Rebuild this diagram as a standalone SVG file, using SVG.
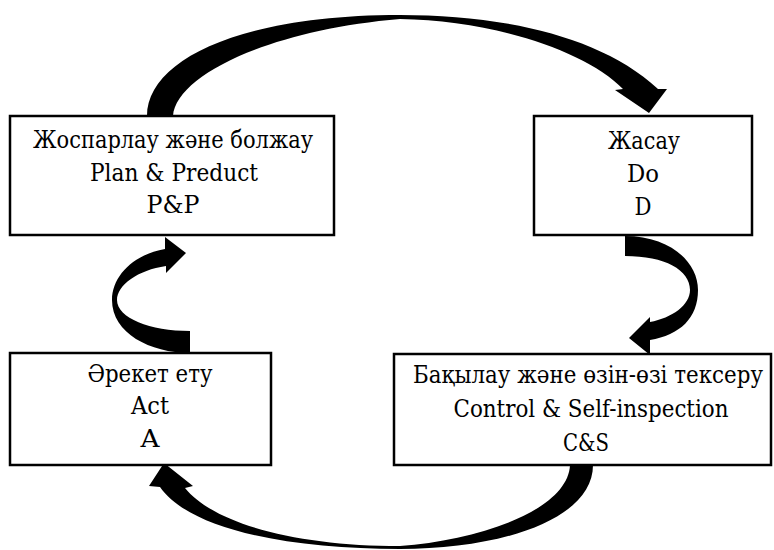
<svg xmlns="http://www.w3.org/2000/svg" width="774" height="550" viewBox="0 0 774 550">
<style>
.box{fill:#fff;stroke:#000;stroke-width:2.5}
.arr{fill:#000;stroke:none}
.t{font-family:'DejaVu Serif',serif;font-size:25px;fill:#000;text-anchor:middle}
</style>
<rect width="774" height="550" fill="#fff"/>
<g id="connectors">
<path class="arr" d="M147,116 C147,60 240,15 400,15 C500,15 600,35 658,89 L667,89 L649,113 L615,90 L623,89 C585,50 490,20 400,19 C270,30 176,75 173,116 Z"/>
<path class="arr" d="M625,236 C670,236 698,262 698,290 C698,318 680,335 650,340 L650,355 L629,338 L650,317 L650,322 C672,318 690,305 690,290 C690,270 665,256 625,256 Z"/>
<path class="arr" d="M593,465 C593,520 500,549 400,549 C290,549 190,530 160,487 L149,486 L164,463 L193,486 L185,488 C215,525 300,546 400,546 C480,540 568,510 570,465 Z"/>
<path class="arr" d="M190,353 C150,353 112,333 112,300 C112,275 135,254 165,249 L165,237 L186,253 L166,273 L166,266 C138,270 117,285 117,300 C117,318 150,331 190,331 Z"/>
</g>
<g id="node-pp">
<rect class="box" x="10" y="116" width="324" height="119"/>
<text class="t" x="173" y="148" textLength="280" lengthAdjust="spacingAndGlyphs">Жоспарлау және болжау</text>
<text class="t" x="174" y="181" textLength="168" lengthAdjust="spacingAndGlyphs">Plan &amp; Preduct</text>
<text class="t" x="173" y="213" textLength="53" lengthAdjust="spacingAndGlyphs">P&amp;P</text>
</g>
<g id="node-do">
<rect class="box" x="534" y="116" width="218" height="119"/>
<text class="t" x="644" y="149" textLength="72" lengthAdjust="spacingAndGlyphs">Жасау</text>
<text class="t" x="643" y="182" textLength="32" lengthAdjust="spacingAndGlyphs">Do</text>
<text class="t" x="643" y="215" textLength="17" lengthAdjust="spacingAndGlyphs">D</text>
</g>
<g id="node-act">
<rect class="box" x="10" y="353" width="261" height="112"/>
<text class="t" x="150" y="382" textLength="125" lengthAdjust="spacingAndGlyphs">Әрекет ету</text>
<text class="t" x="150" y="414" textLength="38" lengthAdjust="spacingAndGlyphs">Act</text>
<text class="t" x="150" y="447" textLength="19" lengthAdjust="spacingAndGlyphs">A</text>
</g>
<g id="node-cs">
<rect class="box" x="394" y="354" width="377" height="111"/>
<text class="t" x="588" y="383" textLength="350" lengthAdjust="spacingAndGlyphs">Бақылау және өзін-өзі тексеру</text>
<text class="t" x="591" y="417" textLength="275" lengthAdjust="spacingAndGlyphs">Control &amp; Self-inspection</text>
<text class="t" x="586" y="451" textLength="46" lengthAdjust="spacingAndGlyphs">C&amp;S</text>
</g>
</svg>
